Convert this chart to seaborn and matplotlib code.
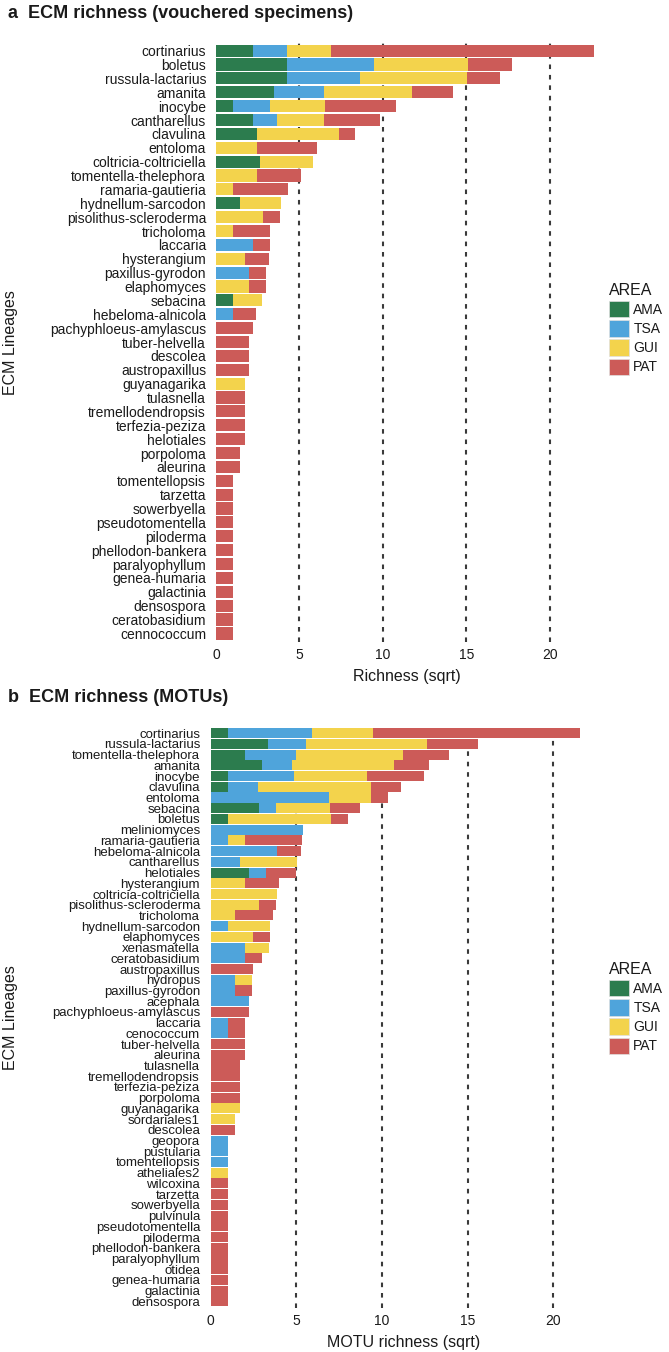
import numpy as np
import pandas as pd
import matplotlib
matplotlib.use("Agg")
import matplotlib.pyplot as plt
from matplotlib.patches import Patch
import seaborn as sns

# ---------------------------------------------------------------------------
# Data: number of taxa per ECM lineage and sampling area
# ---------------------------------------------------------------------------
areas = ["AMA", "TSA", "GUI", "PAT"]
area_colors = ["#2c7c4e", "#4fa4db", "#f3d34c", "#cc5b58"]

# Panel a - vouchered specimens
voucher_lineages = [
    "cortinarius", "boletus", "russula-lactarius", "amanita", "inocybe",
    "cantharellus", "clavulina", "entoloma", "coltricia-coltriciella",
    "tomentella-thelephora", "ramaria-gautieria", "hydnellum-sarcodon",
    "pisolithus-scleroderma", "tricholoma", "laccaria", "hysterangium",
    "paxillus-gyrodon", "elaphomyces", "sebacina", "hebeloma-alnicola",
    "pachyphloeus-amylascus", "tuber-helvella", "descolea", "austropaxillus",
    "guyanagarika", "tulasnella", "tremellodendropsis", "terfezia-peziza",
    "helotiales", "porpoloma", "aleurina", "tomentellopsis", "tarzetta",
    "sowerbyella", "pseudotomentella", "piloderma", "phellodon-bankera",
    "paralyophyllum", "genea-humaria", "galactinia", "densospora",
    "ceratobasidium", "cennococcum",
]
voucher_ama = [5, 18, 18, 12, 1, 5, 6, 0, 7, 0, 0, 2, 0, 0, 0, 0, 0, 0, 1, 0,
               0, 0, 0, 0, 0, 0, 0, 0, 0, 0, 0, 0, 0, 0, 0, 0, 0, 0, 0, 0, 0, 0, 0]
voucher_tsa = [4, 27, 19, 9, 5, 2, 0, 0, 0, 0, 0, 0, 0, 0, 5, 0, 4, 0, 0, 1,
               0, 0, 0, 0, 0, 0, 0, 0, 0, 0, 0, 0, 0, 0, 0, 0, 0, 0, 0, 0, 0, 0, 0]
voucher_gui = [7, 32, 41, 28, 11, 8, 24, 6, 10, 6, 1, 6, 8, 1, 0, 3, 0, 4, 3, 0,
               0, 0, 0, 0, 3, 0, 0, 0, 0, 0, 0, 0, 0, 0, 0, 0, 0, 0, 0, 0, 0, 0, 0]
voucher_pat = [248, 7, 4, 6, 18, 11, 1, 13, 0, 7, 11, 0, 1, 5, 1, 2, 1, 1, 0, 2,
               5, 4, 4, 4, 0, 3, 3, 3, 3, 2, 2, 1, 1, 1, 1, 1, 1, 1, 1, 1, 1, 1, 1]

# Panel b - MOTUs
motu_lineages = [
    "cortinarius", "russula-lactarius", "tomentella-thelephora", "amanita",
    "inocybe", "clavulina", "entoloma", "sebacina", "boletus", "meliniomyces",
    "ramaria-gautieria", "hebeloma-alnicola", "cantharellus", "helotiales",
    "hysterangium", "coltricia-coltriciella", "pisolithus-scleroderma",
    "tricholoma", "hydnellum-sarcodon", "elaphomyces", "xenasmatella",
    "ceratobasidium", "austropaxillus", "hydropus", "paxillus-gyrodon",
    "acephala", "pachyphloeus-amylascus", "laccaria", "cenococcum",
    "tuber-helvella", "aleurina", "tulasnella", "tremellodendropsis",
    "terfezia-peziza", "porpoloma", "guyanagarika", "sordariales1", "descolea",
    "geopora", "pustularia", "tomentellopsis", "atheliales2", "wilcoxina",
    "tarzetta", "sowerbyella", "pulvinula", "pseudotomentella", "piloderma",
    "phellodon-bankera", "paralyophyllum", "otidea", "genea-humaria",
    "galactinia", "densospora",
]
motu_ama = [1, 11, 4, 9, 1, 1, 0, 8, 1, 0, 0, 0, 0, 5, 0, 0, 0, 0, 0, 0,
            0, 0, 0, 0, 0, 0, 0, 0, 0, 0, 0, 0, 0, 0, 0, 0, 0, 0, 0, 0,
            0, 0, 0, 0, 0, 0, 0, 0, 0, 0, 0, 0, 0, 0]
motu_tsa = [24, 5, 9, 3, 15, 3, 48, 1, 0, 29, 1, 15, 3, 1, 0, 0, 0, 0, 1, 0,
            4, 4, 0, 2, 2, 5, 0, 1, 1, 0, 0, 0, 0, 0, 0, 0, 0, 0, 1, 1,
            1, 0, 0, 0, 0, 0, 0, 0, 0, 0, 0, 0, 0, 0]
motu_gui = [13, 50, 39, 36, 18, 44, 6, 10, 36, 0, 1, 0, 11, 0, 4, 15, 8, 2, 6, 6,
            2, 0, 0, 1, 0, 0, 0, 0, 0, 0, 0, 0, 0, 0, 0, 3, 2, 0, 0, 0,
            0, 1, 0, 0, 0, 0, 0, 0, 0, 0, 0, 0, 0, 0]
motu_pat = [145, 9, 7, 4, 11, 3, 1, 3, 1, 0, 11, 2, 0, 3, 4, 0, 1, 5, 0, 1,
            0, 1, 6, 0, 1, 0, 5, 1, 1, 4, 4, 3, 3, 3, 3, 0, 0, 2, 0, 0,
            0, 0, 1, 1, 1, 1, 1, 1, 1, 1, 1, 1, 1, 1]

x_ticks = [0, 5, 10, 15, 20]

# ---------------------------------------------------------------------------
# Style
# ---------------------------------------------------------------------------
sns.set_theme(style="white")
plt.rcParams["font.family"] = ["Liberation Sans", "DejaVu Sans"]
plt.rcParams["text.color"] = "#1a1a1a"

W, H = 669, 1352
fig = plt.figure(figsize=(W / 100, H / 100), dpi=100)


def fx(px):
    return px / W


def fy(py):
    return 1 - py / H


def draw_panel(ax, lineages, counts, xlabel, xlim, ylim, bar_width, label_size):
    # stacked bars on the square-root scale: each area's segment is sqrt(count)
    df = pd.DataFrame({"lineage": lineages})
    for a, c in zip(areas, counts):
        df[a] = np.sqrt(np.asarray(c, dtype=float))
    cum = df[areas].cumsum(axis=1)
    cum["lineage"] = df["lineage"]

    for v in x_ticks[1:]:
        ax.axvline(v, color="#3a3a3a", lw=1.5, ls=(0, (2.2, 2.8)), zorder=0.5)

    for a, col in reversed(list(zip(areas, area_colors))):
        sns.barplot(data=cum, x=a, y="lineage", order=lineages, orient="h",
                    color=col, saturation=1, width=bar_width, errorbar=None,
                    linewidth=0, ax=ax, zorder=2)

    ax.set_xlim(*xlim)
    ax.set_ylim(*ylim)
    ax.set_xticks(x_ticks)
    for s in ax.spines.values():
        s.set_visible(False)
    ax.tick_params(axis="both", which="both", length=3, width=0.8,
                   color="#333333", labelcolor="#1a1a1a", labelsize=10, pad=2)
    ax.tick_params(axis="y", labelsize=label_size)
    ax.tick_params(axis="x", pad=1)
    ax.set_xlabel(xlabel, fontsize=11.5, labelpad=5, color="#1a1a1a")
    ax.set_ylabel("ECM Lineages", fontsize=11.5, color="#1a1a1a")
    ax.grid(False)


def add_legend(top_px):
    handles = [Patch(facecolor=c, edgecolor="#e0e0e0", linewidth=0.5, label=a)
               for a, c in zip(areas, area_colors)]
    leg = fig.legend(handles=handles, title="AREA", loc="upper left",
                     bbox_to_anchor=(fx(609), fy(top_px)), frameon=False,
                     fontsize=10, title_fontsize=11.5, handlelength=1.45,
                     handleheight=1.45, handletextpad=0.3, labelspacing=0.2,
                     borderpad=0, borderaxespad=0, alignment="left")
    return leg


# Panel a
ax_a = fig.add_axes([fx(213), fy(642), fx(600 - 213), (642 - 43) / H])
draw_panel(ax_a, voucher_lineages,
           [voucher_ama, voucher_tsa, voucher_gui, voucher_pat],
           "Richness (sqrt)", (-0.18, 23.0), (42.62, -0.55), 0.88, 10)
ax_a.yaxis.set_label_coords((18 - 213) / (600 - 213), 0.5)
fig.text(fx(8), fy(13), "a  ECM richness (vouchered specimens)",
         fontsize=13, fontweight="bold", va="center", ha="left")
add_legend(283)

# Panel b
ax_b = fig.add_axes([fx(207), fy(1308), fx(600 - 207), (1308 - 727) / H])
draw_panel(ax_b, motu_lineages, [motu_ama, motu_tsa, motu_gui, motu_pat],
           "MOTU richness (sqrt)", (-0.22, 22.74), (53.62, -0.58), 0.94, 9.5)
ax_b.yaxis.set_label_coords((18 - 207) / (600 - 207), 0.5)
fig.text(fx(8), fy(697), "b  ECM richness (MOTUs)",
         fontsize=13, fontweight="bold", va="center", ha="left")
add_legend(962)

fig.savefig("out.png", dpi=100)
